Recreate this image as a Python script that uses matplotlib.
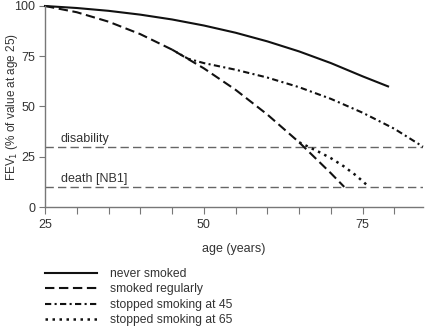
import matplotlib
matplotlib.use("Agg")
import matplotlib.pyplot as plt
from matplotlib.lines import Line2D

plt.rcParams['font.family'] = ['Liberation Sans', 'DejaVu Sans']
plt.rcParams['font.size'] = 9

# FEV1 decline curves (% of value at age 25)
never_age = [25, 30, 35, 40, 45, 50, 55, 60, 65, 70, 75, 79]
never_fev = [100, 99.0, 97.6, 95.7, 93.3, 90.3, 86.7, 82.4, 77.4, 71.6, 65.0, 60.0]

smoked_age = [25, 30, 35, 40, 45, 50, 55, 60, 65, 70, 72.1]
smoked_fev = [100, 96.9, 92.2, 86.0, 78.3, 69.0, 58.3, 46.0, 32.2, 16.8, 10]

stop45_age = [45, 47.5, 50, 55, 60, 65, 70, 75, 80, 84.5]
stop45_fev = [78.3, 73.8, 71.6, 68.3, 64.4, 59.6, 53.8, 46.9, 38.9, 30]

stop65_age = [65, 68, 70, 72, 74, 76]
stop65_fev = [32.2, 27.6, 24.3, 20.3, 15.6, 10]

disability_level = 30
death_level = 10

labels = ["never smoked", "smoked regularly", "stopped smoking at 45", "stopped smoking at 65"]
styles = ['-', (0, (4.5, 2.2)), (0, (3, 1.6, 1, 1.6)), (0, (1, 1.8))]
widths = [1.5, 1.5, 1.5, 1.8]

fig = plt.figure(figsize=(4.25, 3.35), dpi=100)
ax = fig.add_axes([45/425, 1 - 207/335, 378/425, 201/335])

ink = '#111111'
grey = '#777777'
txt = '#333333'

ax.axhline(disability_level, color='#666666', lw=1, ls=(0, (6, 3)))
ax.axhline(death_level, color='#666666', lw=1, ls=(0, (6, 3)))
ax.text(27.5, disability_level + 2.5, "disability", color=txt, fontsize=9)
ax.text(27.5, death_level + 2.5, "death [NB1]", color=txt, fontsize=9)

series = [(never_age, never_fev), (smoked_age, smoked_fev),
          (stop45_age, stop45_fev), (stop65_age, stop65_fev)]
handles = []
for (a, f), ls, lw, lab in zip(series, styles, widths, labels):
    ax.plot(a, f, color=ink, lw=lw, ls=ls, clip_on=False)
    handles.append(Line2D([], [], color=ink, lw=lw, ls=ls, label=lab))

ax.set_xlim(25, 84.5)
ax.set_ylim(0, 100)
xt = list(range(25, 85, 5))
ax.set_xticks(xt)
ax.set_xticklabels([str(v) if v in (25, 50, 75) else "" for v in xt])
ax.set_yticks([0, 25, 50, 75, 100])

for s in ['top', 'right']:
    ax.spines[s].set_visible(False)
for s in ['left', 'bottom']:
    ax.spines[s].set_color(grey)
    ax.spines[s].set_linewidth(1)
ax.tick_params(axis='x', direction='out', length=5, color=grey, labelcolor=txt, labelsize=9, pad=4)
ax.tick_params(axis='y', direction='out', length=4, color=grey, labelcolor=txt, labelsize=9, pad=3)

ax.set_xlabel("age (years)", color=txt, fontsize=9, labelpad=8)
ax.set_ylabel("FEV$_1$ (% of value at age 25)", color=txt, fontsize=8.5)
ax.yaxis.set_label_coords(-25/378, 0.5)

fig.legend(handles=handles, loc='upper left', bbox_to_anchor=(45/425, 1 - 268/335),
           frameon=False, borderpad=0, borderaxespad=0, handlelength=4.3,
           handletextpad=1.1, labelspacing=0.28, fontsize=8.7, labelcolor=txt)

fig.savefig("out.png", dpi=100)
